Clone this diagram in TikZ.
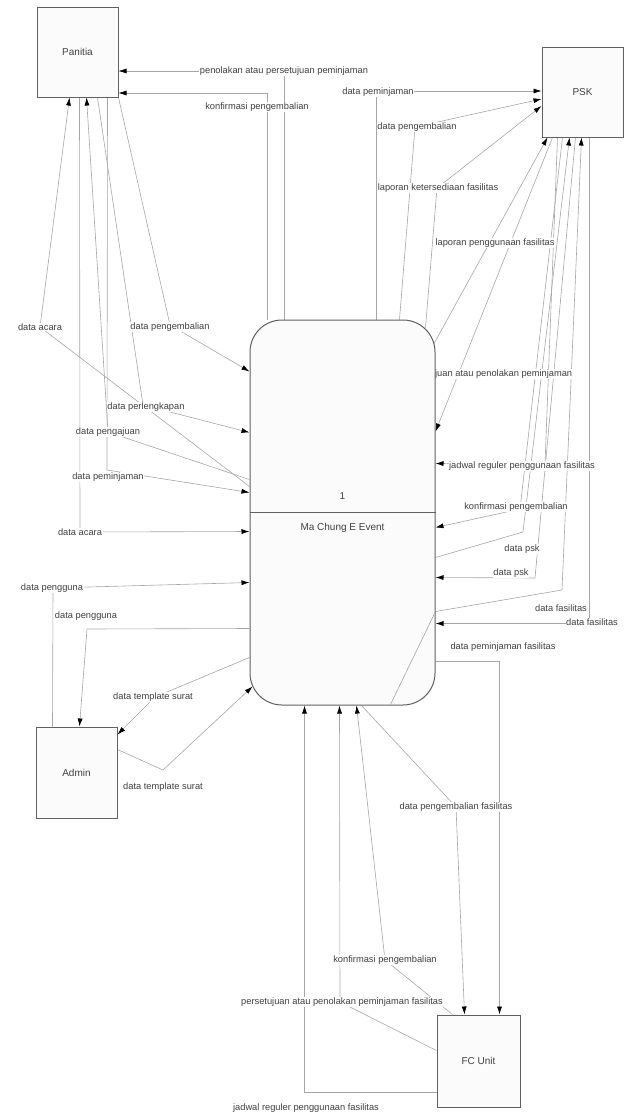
\documentclass[tikz,border=0pt]{standalone}
\usepackage{fontspec}
\setmainfont{Liberation Sans}
\usetikzlibrary{arrows.meta,calc,backgrounds}
\pgfdeclarelayer{lab}
\pgfsetlayers{background,lab,main}
\begin{document}
\begin{tikzpicture}[x=1pt,y=-1pt,
 ent/.style={draw=gray!75!black,line width=1pt,fill=gray!3,minimum width=81pt,minimum height=90pt,inner sep=0pt,font=\fontsize{10}{12}\selectfont,text=black!75},
 flow/.style={draw=gray!70,line width=0.6pt},
 arr/.style={flow,-{Latex[length=8pt,width=5pt,color=black]}},
 lbl/.style={fill=white,inner sep=0.6pt,font=\fontsize{9.3}{10}\selectfont,text=black!75}
]
\useasboundingbox (0,0) rectangle (627,1117);

% entities and process
\node[ent] (pan) at (77.5,52) {Panitia};
\node[ent] (psk) at (582.5,92) {PSK};
\node[ent,minimum height=91pt] (adm) at (76.5,772.5) {Admin};
\node[ent,minimum width=83pt,minimum height=92pt] (fcu) at (478.5,1061) {FC Unit};
\node[draw=gray!75!black,line width=1pt,fill=gray!3,rounded corners=32pt,minimum width=185pt,minimum height=385pt] (proc) at (342.5,512.5) {};
\draw[gray!75!black,line width=1pt] (proc.west) -- (proc.east);
\node[font=\fontsize{10}{12}\selectfont,text=black!75] (pnum) at ($(proc.center)+(0,-16)$) {1};
\node[font=\fontsize{10}{12}\selectfont,text=black!75] (pname) at ($(proc.center)+(0,15)$) {Ma Chung E Event};
\draw[flow] ($(proc.south east)+(-45,-1)$) -- ($(proc.north east)+(0,292)$);

\begin{scope}[on background layer]
% top
\draw[arr] ($(proc.north west)+(35,0)$) |- ($(pan.east)+(0,19)$);
\draw[arr] ($(proc.north west)+(18,0)$) |- ($(pan.east)+(0,41)$);
\draw[arr] ($(proc.north west)+(127,0)$) |- ($(psk.west)+(0,-1)$);
\draw[arr] ($(proc.north west)+(150,0)$) -- (415,127) -- ($(psk.west)+(0,7)$);
\draw[arr] ($(proc.north east)+(-10,8)$) -- (437,188) -- ($(psk.west)+(0,14)$);
\draw[arr] ($(proc.north east)+(-2,25)$) -- ($(psk.south west)+(6,0)$);
% right
\draw[arr] ($(psk.south west)+(11,0)$) -- ($(proc.north east)+(0,112)$);
\draw[arr] ($(psk.south west)+(16,0)$) -- (545,464) -- ($(proc.north east)+(0,144)$);
\draw[arr] ($(psk.south west)+(21,0)$) -- (520,509) -- ($(proc.north east)+(0,208)$);
\draw[arr] ($(proc.north east)+(0,238)$) -- (523,532) -- ($(psk.south west)+(28,0)$);
\draw[arr] ($(psk.south west)+(34,0)$) -- (535,578) -- ($(proc.north east)+(0,258)$);
\draw[arr] ($(proc.north east)+(0,292)$) -- (562,590) -- ($(psk.south west)+(40,0)$);
\draw[arr] ($(psk.south west)+(48,0)$) |- ($(proc.north east)+(0,304)$);
\draw[arr] ($(proc.north east)+(0,342)$) -| ($(fcu.north west)+(63,0)$);
% bottom
\draw[arr] ($(fcu.south west)+(0,-15)$) -| ($(proc.south west)+(55,0)$);
\draw[arr] ($(fcu.south west)+(0,-57)$) -- (340,1002) -- ($(proc.south west)+(90,0)$);
\draw[arr] ($(fcu.north west)+(16,0)$) -- (385,960) -- ($(proc.south west)+(107,0)$);
\draw[arr] ($(proc.south west)+(112,0)$) -- (456,807) -- ($(fcu.north west)+(28,0)$);
% admin
\draw[arr] ($(adm.north west)+(17,0)$) -- (53,588) -- ($(proc.north west)+(0,263)$);
\draw[arr] ($(proc.north west)+(0,309)$) -- (87,629) -- ($(adm.north west)+(44,0)$);
\draw[arr] ($(proc.north west)+(0,338)$) -- (155,697) -- ($(adm.north east)+(0,8)$);
\draw[arr] ($(adm.north east)+(0,23)$) -- (163,770) -- ($(proc.north west)+(3,367)$);
% left
\draw[arr] (pan.south east) -- (170,325) -- ($(proc.north west)+(0,52)$);
\draw[arr] ($(proc.north west)+(0,167)$) -- (40,327) -- ($(pan.south west)+(33,0)$);
\draw[arr] ($(pan.south west)+(61,0)$) -- (143,405) -- ($(proc.north west)+(0,113)$);
\draw[arr] ($(proc.north west)+(0,160)$) -- (108,432) -- ($(pan.south west)+(50,0)$);
\draw[arr] ($(pan.south west)+(71,0)$) -- (107,470) -- ($(proc.north west)+(0,173)$);
\draw[arr] ($(pan.south west)+(43,0)$) -- (80,532) -- ($(proc.north west)+(0,212)$);
\end{scope}

\begin{pgfonlayer}{lab}
\node[lbl] (l1) at (284,71) {penolakan atau persetujuan peminjaman};
\node[lbl] (l2) at (257,107) {konfirmasi pengembalian};
\node[lbl] (l3) at (378,92) {data peminjaman};
\node[lbl] (l4) at (417,127) {data pengembalian};
\node[lbl] (l5) at (438,188) {laporan ketersediaan fasilitas};
\node[lbl] (l6) at (495,243) {laporan penggunaan fasilitas};
\node[lbl,anchor=east] (l7) at (573,374) {persetujuan atau penolakan peminjaman};
\node[lbl] (l8) at (522,466) {jadwal reguler penggunaan fasilitas};
\node[lbl] (l9) at (516,507) {konfirmasi pengembalian};
\node[lbl] (l10) at (522,549) {data psk};
\node[lbl] (l11) at (511,573) {data psk};
\node[lbl] (l12) at (561,608) {data fasilitas};
\node[lbl] (l13) at (592,622) {data fasilitas};
\node[lbl] (l14) at (503,647) {data peminjaman fasilitas};
\node[lbl] (l15) at (456,807) {data pengembalian fasilitas};
\node[lbl] (l16) at (385,960) {konfirmasi pengembalian};
\node[lbl] (l17) at (342,1002) {persetujuan atau penolakan peminjaman fasilitas};
\node[lbl] (l18) at (306,1108) {jadwal reguler penggunaan fasilitas};
\node[lbl] (l19) at (52,588) {data pengguna};
\node[lbl] (l20) at (86,616) {data pengguna};
\node[lbl] (l21) at (153,697) {data template surat};
\node[lbl] (l22) at (163,787) {data template surat};
\node[lbl] (l23) at (170,327) {data pengembalian};
\node[lbl] (l24) at (40,327) {data acara};
\node[lbl] (l25) at (146,407) {data perlengkapan};
\node[lbl] (l26) at (108,432) {data pengajuan};
\node[lbl] (l27) at (108,477) {data peminjaman};
\node[lbl] (l28) at (80,532) {data acara};
\end{pgfonlayer}
\end{tikzpicture}
\end{document}
